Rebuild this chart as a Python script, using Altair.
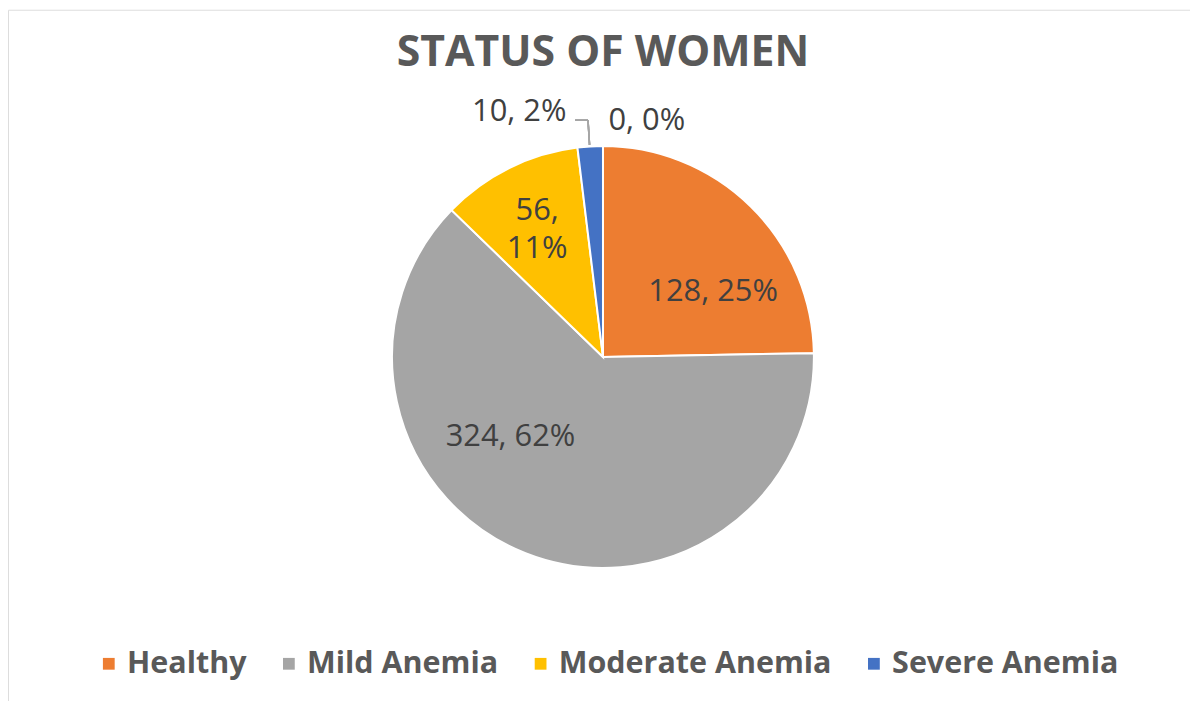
import altair as alt
import pandas as pd

# ---- data ----
categories = ["Healthy", "Mild Anemia", "Moderate Anemia", "Severe Anemia", "(blank)"]
counts = [128, 324, 56, 10, 0]
percents = [25, 62, 11, 2, 0]
legend_categories = ["Healthy", "Mild Anemia", "Moderate Anemia", "Severe Anemia"]
palette = ["#ED7D31", "#A5A5A5", "#FFC000", "#4472C4"]
title_text = "STATUS OF WOMEN"

labels = [f"{c}, {p}%" for c, p in zip(counts, percents)]
df = pd.DataFrame({"category": categories, "count": counts, "label": labels})

FONT = "Open Sans"
W, H = 1188, 698
CX, CY = 598, 349  # pie centre inside the view

base = alt.Chart(df).transform_window(idx="row_number()")

pie = base.transform_filter("datum.count > 0").mark_arc(
    outerRadius=212, stroke="white", strokeWidth=2
).encode(
    x=alt.value(CX),
    y=alt.value(CY),
    theta=alt.Theta("count:Q", stack=True),
    order=alt.Order("idx:Q"),
    color=alt.Color(
        "category:N",
        scale=alt.Scale(domain=legend_categories, range=palette),
        legend=alt.Legend(
            orient="none", legendX=86, legendY=642, direction="horizontal",
            columns=4, title=None, symbolType="square", symbolSize=140,
            symbolStrokeWidth=0, labelFontSize=30.6, labelFontWeight="bold",
            labelColor="#595959", labelFont=FONT, columnPadding=27, labelOffset=3,
            labelLimit=400,
        ),
    ),
)


def label_layer(cat, radius, dx, dy, **kw):
    return base.mark_text(
        radius=radius, dx=dx, dy=dy, fontSize=31, font=FONT, color="#404040", **kw
    ).encode(
        x=alt.value(CX),
        y=alt.value(CY),
        theta=alt.Theta("count:Q", stack=True),
        order=alt.Order("idx:Q"),
        detail="category:N",
        text=alt.condition(f"datum.category == '{cat}'", "label:N", alt.value("")),
    )


lab_healthy = label_layer("Healthy", 128, 21, 26)
lab_mild = label_layer("Mild Anemia", 128, -46, -39)
lab_mod = label_layer("Moderate Anemia", 160, 5, -3, lineBreak=" ", lineHeight=38)
lab_sev = label_layer("Severe Anemia", 250, -69, 3)
lab_zero = label_layer("(blank)", 250, 44, 13)

leader1 = alt.Chart(df).mark_rule(color="#A6A6A6", strokeWidth=1.5).encode(
    x=alt.value(CX - 28), x2=alt.value(CX - 15), y=alt.value(111), y2=alt.value(111)
)
leader2 = alt.Chart(df).mark_rule(color="#A6A6A6", strokeWidth=1.5).encode(
    x=alt.value(CX - 15), x2=alt.value(CX - 13.5), y=alt.value(111), y2=alt.value(136)
)

chart = alt.layer(
    pie, leader1, leader2, lab_healthy, lab_mild, lab_mod, lab_sev, lab_zero
).properties(
    width=W, height=H,
    autosize=alt.AutoSizeParams(type="fit", contains="padding"),
    padding=0,
    title=alt.TitleParams(
        title_text, fontSize=43, fontWeight="bold", color="#595959", font=FONT,
        anchor="middle", offset=-66, dx=4,
    ),
).configure_view(stroke="#D9D9D9", strokeWidth=2).configure(background="white")

chart.save("out.html", embed_options={"renderer": "svg", "actions": False})
